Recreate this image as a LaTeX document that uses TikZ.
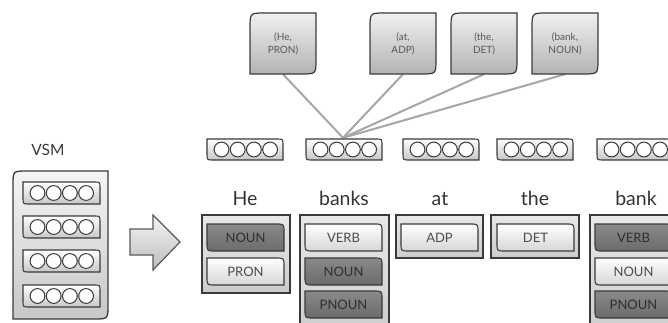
\documentclass[tikz,border=0pt]{standalone}
\usepackage{fontspec}
\setmainfont{Lato}
\usetikzlibrary{calc}
\pgfdeclarelayer{bg}
\pgfsetlayers{bg,main}
\definecolor{edge}{HTML}{3A3A3A}
% rounded top-right and bottom-left corners
\newcommand{\trbl}[6]{%
  \path[#6] ({#1},{#2}) -- ({#3-#5},{#2}) .. controls ({#3},{#2}) .. ({#3},{#2+#5})
    -- ({#3},{#4}) -- ({#1+#5},{#4}) .. controls ({#1},{#4}) .. ({#1},{#4-#5}) -- cycle;}
% rounded top-left and bottom-right corners
\newcommand{\tlbr}[6]{%
  \path[#6] ({#1+#5},{#2}) -- ({#3},{#2}) -- ({#3},{#4-#5}) .. controls ({#3},{#4}) .. ({#3-#5},{#4})
    -- ({#1},{#4}) -- ({#1},{#2+#5}) .. controls ({#1},{#2}) .. ({#1+#5},{#2}) -- cycle;}
% vector box: name, x, y, width, height
\newcommand{\vecbox}[5]{%
  \trbl{#2}{#3}{#2+#4}{#3+#5}{6}{vecfill}
  \node[inner sep=0pt, minimum width=#4pt, minimum height=#5pt] (#1) at ({#2+#4/2},{#3+#5/2}) {};
  \foreach \k in {0,...,3} \draw[circ] ({#2+14.5+\k*16.2},{#3+#5/2}) circle[radius=7.4pt];}
% tag box: name, x, y, style, text colour, text
\newcommand{\tagbox}[6]{%
  \trbl{#2}{#3}{#2+77}{#3+27}{8}{#4}
  \node[tagtext, text=#5] (#1) at ({#2+38.5},{#3+13.5}) {#6};}
% pair box: name, x, text
\newcommand{\pairbox}[3]{%
  \tlbr{#2}{13}{#2+66}{74}{15}{topbox}
  \node[pairtext, minimum width=66pt, minimum height=61pt, inner sep=0pt] (#1) at ({#2+33},43.5) {#3};}
\begin{document}
\begin{tikzpicture}[x=1pt,y=-1pt,
  panelbox/.style={draw=edge, line width=1.2pt, top color=black!9, bottom color=black!20},
  vsmpanel/.style={draw=edge, line width=1.3pt, top color=black!4, bottom color=black!22},
  vecfill/.style={draw=edge, line width=1.1pt, top color=white, bottom color=black!22},
  circ/.style={draw=edge, line width=1pt, fill=white},
  darktag/.style={draw=edge, line width=1.1pt, top color=black!46, bottom color=black!58},
  lighttag/.style={draw=edge, line width=1.1pt, top color=white, bottom color=black!16},
  topbox/.style={draw=edge, line width=1.2pt, top color=black!6, bottom color=black!30},
  arrowfill/.style={draw=black!65, line width=1.2pt, top color=black!4, bottom color=black!26},
  link/.style={draw=black!35, line width=2pt},
  word/.style={font=\fontsize{19.5}{20}\selectfont, text=black!80, anchor=base, inner sep=0pt},
  tagtext/.style={font=\fontsize{13}{14}\selectfont},
  pairtext/.style={font=\fontsize{10}{13}\selectfont, text=black!66, align=center}]
\useasboundingbox (0,0) rectangle (668,323);
\clip (0,0) rectangle (668,323);

% VSM
\node[font=\fontsize{15.5}{16}\selectfont, text=black!78, anchor=base, inner sep=0pt] (vsm) at (48,156) {VSM};
\tlbr{13}{171}{108}{319}{14}{vsmpanel}
\vecbox{vsma}{23}{182}{77}{22}
\vecbox{vsmb}{23}{216}{77}{22}
\vecbox{vsmc}{23}{250}{77}{22}
\vecbox{vsmd}{23}{285}{77}{22}

% block arrow
\path[arrowfill] (130,229) -- (153,229) -- (153,215) -- (180,242) -- (153,270) -- (153,255) -- (130,255) -- cycle;

% pair boxes
\pairbox{pHe}{250}{(He,\\PRON)}
\pairbox{pat}{370}{(at,\\ADP)}
\pairbox{pthe}{451}{(the,\\DET)}
\pairbox{pbank}{532}{(bank,\\NOUN)}

% vectors
\vecbox{vHe}{207}{139}{76}{21}
\vecbox{vbanks}{306}{139}{76}{21}
\vecbox{vat}{403}{139}{76}{21}
\vecbox{vthe}{497}{139}{76}{21}
\vecbox{vbank}{597}{139}{76}{21}

% words
\node[word] (wHe) at (245,205) {He};
\node[word] (wbanks) at (344,205) {banks};
\node[word] (wat) at (440,205) {at};
\node[word] (wthe) at (535,205) {the};
\node[word] (wbank) at (636,205) {bank};

% panels
\path[panelbox] (202,215) rectangle (290,293);
\path[panelbox] (300,215) rectangle (389,335);
\path[panelbox] (396,215) rectangle (483,258);
\path[panelbox] (491,215) rectangle (579,258);
\path[panelbox] (590,215) rectangle (690,335);

% tags
\tagbox{tHeA}{207}{224}{darktag}{black!82}{NOUN}
\tagbox{tHeB}{207}{258}{lighttag}{black!70}{PRON}
\tagbox{tbanksA}{305}{224}{lighttag}{black!70}{VERB}
\tagbox{tbanksB}{305}{258}{darktag}{black!82}{NOUN}
\tagbox{tbanksC}{305}{291}{darktag}{black!82}{PNOUN}
\tagbox{tatA}{401}{224}{lighttag}{black!70}{ADP}
\tagbox{ttheA}{497}{224}{lighttag}{black!70}{DET}
\tagbox{tbankA}{595}{224}{darktag}{black!82}{VERB}
\tagbox{tbankB}{595}{258}{lighttag}{black!70}{NOUN}
\tagbox{tbankC}{595}{291}{darktag}{black!82}{PNOUN}

% connectors
\begin{pgfonlayer}{bg}
\foreach \p in {pHe,pat,pthe,pbank}
  \draw[link] (\p.south) -- ($(vbanks.north)+(-1,-1)$);
\end{pgfonlayer}
\end{tikzpicture}
\end{document}
